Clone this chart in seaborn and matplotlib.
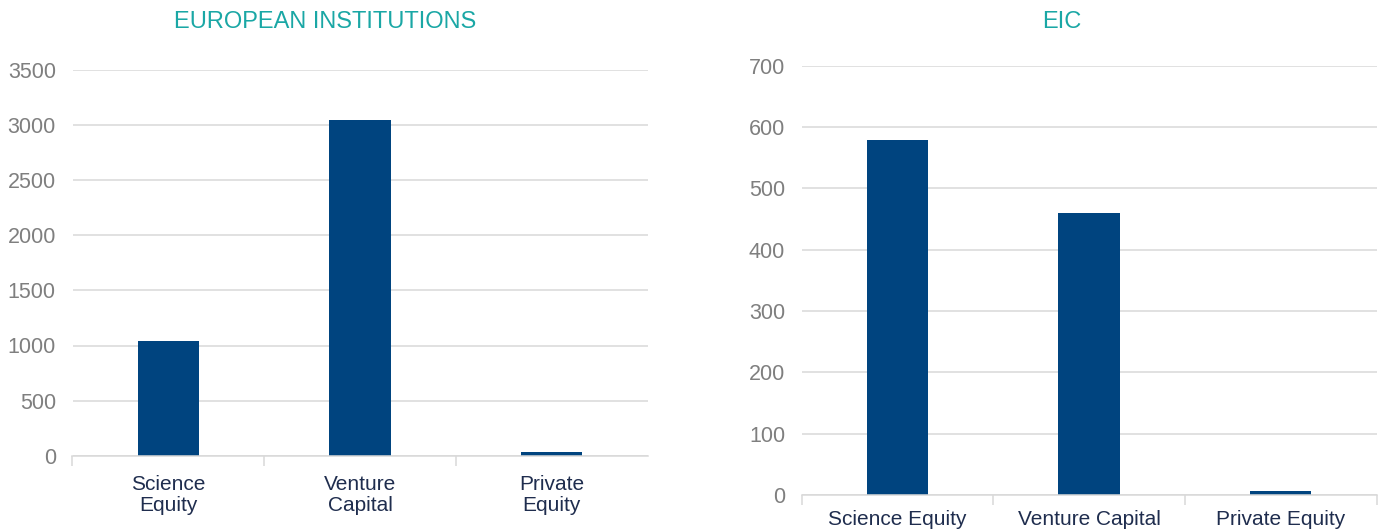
import matplotlib
matplotlib.use("Agg")
import matplotlib.pyplot as plt
import seaborn as sns
import numpy as np

# Data
categories_left = ["Science\nEquity", "Venture\nCapital", "Private\nEquity"]
values_left = [1040, 3050, 30]
categories_right = ["Science Equity", "Venture Capital", "Private Equity"]
values_right = [578, 459, 7]
title_left = "EUROPEAN INSTITUTIONS"
title_right = "EIC"
yticks_left = [0, 500, 1000, 1500, 2000, 2500, 3000, 3500]
yticks_right = [0, 100, 200, 300, 400, 500, 600, 700]

BAR = "#00447F"
TEAL = "#1AA7A5"
GRID = "#D9D9D9"
YTXT = "#7F7F7F"
XTXT = "#1F2D4E"

sns.set_theme(style="white")
plt.rcParams["font.family"] = ["Liberation Sans", "DejaVu Sans"]

fig = plt.figure(figsize=(13.84, 5.31), dpi=100)
W, H = 1384, 531

def make_ax(l, r, t, b):
    return fig.add_axes([l / W, 1 - b / H, (r - l) / W, (b - t) / H])

axL = make_ax(72.5, 647.5, 70, 455.7)
axR = make_ax(801.7, 1376.5, 65.5, 495)

def style(ax, cats, vals, ymax, yticks, multiline, end_tick):
    sns.barplot(x=cats, y=vals, ax=ax, color=BAR, saturation=1, width=0.32,
                edgecolor="none", zorder=2)
    ax.set_ylim(0, ymax)
    ax.set_xlim(-0.5, len(cats) - 0.5)
    ax.set_yticks(yticks)
    ax.set_yticklabels([str(v) for v in yticks])
    ax.yaxis.grid(True, color=GRID, linewidth=1.1, zorder=0)
    ax.xaxis.grid(False)
    for s in ["top", "right", "left"]:
        ax.spines[s].set_visible(False)
    ax.spines["bottom"].set_color(GRID)
    ax.spines["bottom"].set_linewidth(1.1)
    ax.spines["bottom"].set_zorder(3)
    ax.tick_params(axis="y", length=0, pad=12, labelsize=15.5, labelcolor=YTXT)
    ax.tick_params(axis="x", which="major", length=0,
                   pad=14 if multiline else 11,
                   labelsize=15, labelcolor=XTXT)
    # category separator ticks
    n_sep = len(cats) + 1 if end_tick else len(cats)
    ax.set_xticks(np.arange(n_sep) - 0.5, minor=True)
    ax.tick_params(axis="x", which="minor", bottom=True, length=7, width=1.1,
                   color=GRID, direction="out")
    for lab in ax.get_xticklabels():
        lab.set_linespacing(1.15)
    ax.set_xlabel("")
    ax.set_ylabel("")

style(axL, categories_left, values_left, 3500, yticks_left, True, False)
style(axR, categories_right, values_right, 700, yticks_right, False, True)

fig.text(325 / W, 1 - 22 / H, title_left, ha="center", va="center",
         fontsize=17, color=TEAL)
fig.text(1062 / W, 1 - 22 / H, title_right, ha="center", va="center",
         fontsize=17, color=TEAL)

fig.savefig("out.png", dpi=100)
